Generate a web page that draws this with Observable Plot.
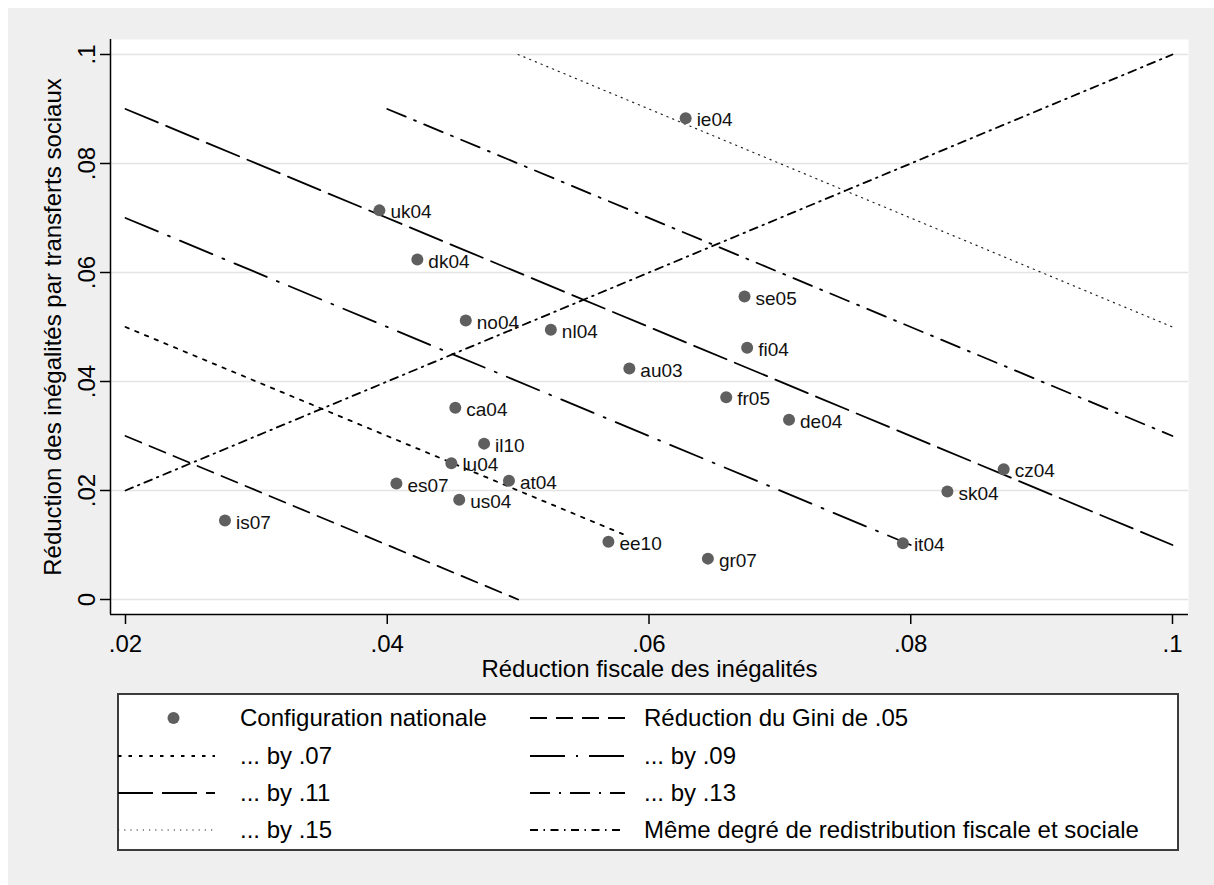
<!DOCTYPE html>
<html><head><meta charset="utf-8">
<script src="https://cdn.jsdelivr.net/npm/d3@7"></script>
<script src="https://cdn.jsdelivr.net/npm/@observablehq/plot@0.6"></script>
<style>
html,body{margin:0;padding:0;background:#fff;}
#chart{position:absolute;left:8px;top:8px;width:1206px;height:877px;background:#efefef;font-family:"Liberation Sans",Arial,sans-serif;}
#plot{position:absolute;left:0;top:0;}
#legend{position:absolute;left:109px;top:685px;width:1062px;height:158px;}
</style></head><body><div id="chart"><div id="plot"></div><div id="legend"></div></div>
<script>
// ---- data ----
const countries = ["ie04","uk04","dk04","se05","no04","nl04","fi04","au03","fr05","de04","ca04","il10","lu04","at04","es07","us04","is07","ee10","gr07","it04","sk04","cz04"];
const fiscal   = [0.0628,0.0394,0.0423,0.0673,0.0460,0.0525,0.0675,0.0585,0.0659,0.0707,0.0452,0.0474,0.0449,0.0493,0.0407,0.0455,0.0276,0.0569,0.0645,0.0794,0.0828,0.0871];
const social   = [0.0883,0.0714,0.0624,0.0556,0.0512,0.0495,0.0462,0.0424,0.0371,0.0330,0.0352,0.0286,0.0250,0.0218,0.0213,0.0183,0.0145,0.0106,0.0075,0.0103,0.0198,0.0239];
const giniLevels = [0.05,0.07,0.09,0.11,0.13,0.15];
const giniXStart = [0.02,0.02,0.02,0.02,0.04,0.05];
const giniXEnd   = [0.05,0.058,0.08,0.10,0.10,0.10];
const equalX = [0.02,0.10];
const xTicks = [0.02,0.04,0.06,0.08,0.10];
const yTicks = [0,0.02,0.04,0.06,0.08,0.10];
const xTitle = "Réduction fiscale des inégalités";
const yTitle = "Réduction des inégalités par transferts sociaux";
const legendLabels = ["Configuration nationale","Réduction du Gini de .05","... by .07","... by .09","... by .11","... by .13","... by .15","Même degré de redistribution fiscale et sociale"];

// ---- styles ----
const FONT = '"Liberation Sans", Arial, sans-serif';
const lineStyles = [
  {dash:"17 9", w:1.8, c:"#000"},          // .05 dash
  {dash:"3.5 7", w:1.8, c:"#000"},         // .07 short dash
  {dash:"35 11 2 11", w:1.8, c:"#000"},    // .09 longdash dot
  {dash:"35 9", w:1.8, c:"#000"},          // .11 longdash
  {dash:"20 9 2 9", w:1.8, c:"#000"},      // .13 dash dot
  {dash:"1.2 5", w:1.2, c:"#222"}          // .15 dot
];
const eqStyle = {dash:"8 5.5 1.5 5.5", w:1.8, c:"#000"};

const fmt = d => d === 0 ? "0" : d3.format(".2~f")(d).replace(/^0\./, ".");
const xDomain = [0.018854, 0.101223];
const yDomain = [-0.002752, 0.102752];

const points = countries.map((c, i) => ({c, x: fiscal[i], y: social[i]}));
const lineMarks = giniLevels.map((g, i) => {
  const seg = [giniXStart[i], giniXEnd[i]].map(x => ({x, y: g - x}));
  const s = lineStyles[i];
  return Plot.line(seg, {x: "x", y: "y", stroke: s.c, strokeWidth: s.w, strokeDasharray: s.dash});
});
const eqSeg = equalX.map(x => ({x, y: x}));

const plot = Plot.plot({
  width: 1206, height: 680,
  marginLeft: 102, marginRight: 26, marginTop: 31, marginBottom: 74,
  style: {background: "transparent", fontFamily: FONT, fontSize: "24px", color: "#000", overflow: "visible"},
  x: {domain: xDomain},
  y: {domain: yDomain},
  marks: [
    Plot.frame({fill: "white", stroke: "none"}),
    Plot.gridY(yTicks, {stroke: "#e4e4e4", strokeOpacity: 1, strokeWidth: 1.6}),
    ...lineMarks,
    Plot.line(eqSeg, {x: "x", y: "y", stroke: eqStyle.c, strokeWidth: eqStyle.w, strokeDasharray: eqStyle.dash}),
    Plot.dot(points, {x: "x", y: "y", r: 6, fill: "#5f5f5f", stroke: "none"}),
    Plot.text(points, {x: "x", y: "y", text: "c", dx: 11, dy: 2, textAnchor: "start", fontSize: 19, fill: "#111"}),
    Plot.ruleX([xDomain[0]], {stroke: "#000", strokeWidth: 1.5}),
    Plot.ruleY([yDomain[0]], {stroke: "#000", strokeWidth: 1.5}),
    Plot.axisX(xTicks, {tickSize: 10, tickPadding: 10, tickFormat: fmt, fontSize: 24, label: null, strokeWidth: 1.5}),
    Plot.axisY(yTicks, {tickSize: 10, tickPadding: 6, tickRotate: -90, tickFormat: fmt, fontSize: 24, label: null, strokeWidth: 1.5}),
    Plot.text([xTitle], {text: d => d, frameAnchor: "bottom", dy: 62, lineAnchor: "bottom", fontSize: 24}),
    Plot.text([yTitle], {text: d => d, frameAnchor: "left", dx: -50, rotate: -90, textAnchor: "middle", lineAnchor: "bottom", fontSize: 24})
  ]
});
document.getElementById("plot").appendChild(plot);

// ---- legend ----
const L = d3.select("#legend").append("svg").attr("width", 1062).attr("height", 158)
  .style("font-family", FONT).style("font-size", "24px");
L.append("rect").attr("x", 1).attr("y", 1).attr("width", 1060).attr("height", 156)
  .attr("fill", "#fff").attr("stroke", "#3c3c3c").attr("stroke-width", 2);
const rowY = [25, 63, 100, 137];
const colSample = [[1, 98], [413, 508]];
const colText = [123, 527];
const legendStyles = [null, lineStyles[0], lineStyles[1], lineStyles[2], lineStyles[3], lineStyles[4], lineStyles[5], eqStyle];
legendLabels.forEach((lab, i) => {
  const row = Math.floor(i / 2), col = i % 2;
  const y = rowY[row];
  const s = legendStyles[i];
  if (!s) {
    L.append("circle").attr("cx", (colSample[col][0] + colSample[col][1]) / 2 + 7).attr("cy", y).attr("r", 6).attr("fill", "#5f5f5f");
  } else {
    L.append("line").attr("x1", colSample[col][0]).attr("x2", colSample[col][1]).attr("y1", y).attr("y2", y)
      .attr("stroke", s.c).attr("stroke-width", s.w).attr("stroke-dasharray", s.dash);
  }
  L.append("text").attr("x", colText[col]).attr("y", y).attr("dy", "0.35em").attr("fill", "#000").text(lab);
});
</script></body></html>
